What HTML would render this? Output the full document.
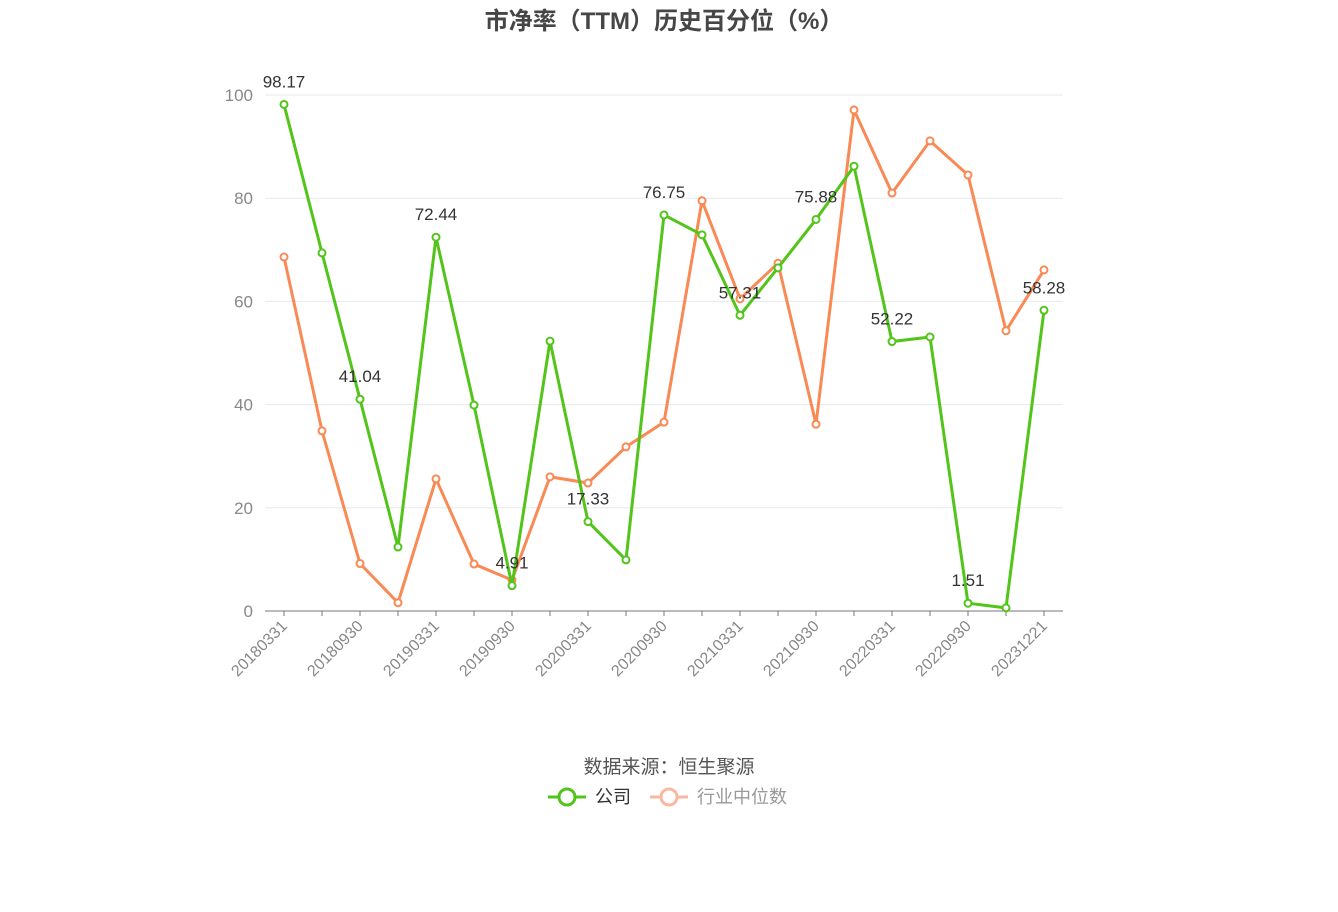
<!DOCTYPE html>
<html><head><meta charset="utf-8"><style>
html,body{margin:0;padding:0;background:#fff;}
svg text{font-family:"Liberation Sans","Noto Sans CJK SC",sans-serif;}
</style></head><body>
<svg id="chart" width="1338" height="907" xmlns="http://www.w3.org/2000/svg">
<text x="664" y="29" text-anchor="middle" font-size="24" font-weight="bold" fill="#464646">市净率（TTM）历史百分位（%）</text>
<g id="grid"></g><g id="xaxis"></g><g id="series"></g>
<text x="669" y="773" text-anchor="middle" font-size="19" fill="#555">数据来源：恒生聚源</text>
<g>
<line x1="548" y1="797" x2="586" y2="797" stroke="#52c41a" stroke-width="3"/>
<circle cx="567" cy="797" r="8" fill="#fff" stroke="#52c41a" stroke-width="3"/>
<text x="595" y="803" font-size="18" fill="#333">公司</text></g>
<g>
<line x1="650" y1="797" x2="688" y2="797" stroke="#fbb8a0" stroke-width="3"/>
<circle cx="669" cy="797" r="8" fill="#fff" stroke="#fbb8a0" stroke-width="3"/>
<text x="697" y="803" font-size="18" fill="#999">行业中位数</text></g>
</svg>
<script>
const dates=["20180331","20180630","20180930","20181231","20190331","20190630","20190930","20191231","20200331","20200630","20200930","20201231","20210331","20210630","20210930","20211231","20220331","20220630","20220930","20221231","20231221"];
const company=[98.17,69.4,41.04,12.4,72.44,39.9,4.91,52.3,17.33,9.9,76.75,72.9,57.31,66.5,75.88,86.2,52.22,53.1,1.51,0.6,58.28];
const industry=[68.6,34.9,9.2,1.6,25.6,9.1,6.0,26.0,24.8,31.8,36.6,79.5,60.5,67.4,36.2,97.1,81.0,91.1,84.5,54.3,66.1];
const yTicks=[0,20,40,60,80,100];
const NS="http://www.w3.org/2000/svg";
const X0=284,DX=38,Y0=611,YS=5.16;
const xs=i=>X0+i*DX, ys=v=>Y0-v*YS;
function mk(tag,attrs,parent,txt){const e=document.createElementNS(NS,tag);for(const k in attrs)e.setAttribute(k,attrs[k]);if(txt!==undefined)e.textContent=txt;parent.appendChild(e);return e;}
const grid=document.getElementById('grid'),xa=document.getElementById('xaxis'),ser=document.getElementById('series');
yTicks.forEach(t=>{
 if(t>0){const l=mk('line',{x1:265,x2:1063,y1:ys(t),y2:ys(t),stroke:'#e6e8f0','stroke-width':1},grid);
 
 }
 const tx=mk('text',{x:253,y:ys(t)+6,'text-anchor':'end','font-size':17,fill:'#888'},grid,t);
 
 
});
const ax=mk('line',{x1:265,x2:1063,y1:Y0,y2:Y0,stroke:'#777','stroke-width':1},xa);


dates.forEach((d,i)=>{
 mk('line',{x1:xs(i),x2:xs(i),y1:Y0,y2:Y0+5,stroke:'#777'},xa);
 if(i%2===0){const t=mk('text',{x:xs(i)+4,y:Y0+16,'text-anchor':'end','font-size':16,fill:'#888',transform:`rotate(-45 ${xs(i)+4} ${Y0+16})`},xa,d);
 
 }
});
function draw(vals,color,name,labels){
 const p=mk('polyline',{points:vals.map((v,i)=>xs(i)+','+ys(v)).join(' '),fill:'none',stroke:color,'stroke-width':3},ser);
 
 
 vals.forEach((v,i)=>{
  const c=mk('circle',{cx:xs(i),cy:ys(v),r:3.5,fill:'#fff',stroke:color,'stroke-width':2},ser);
  
  
  if(labels&&i%2===0){const t=mk('text',{x:xs(i),y:ys(v)-17,'text-anchor':'middle','font-size':17,fill:'#333'},ser,v.toFixed(2));
  
  }
 });
}
draw(industry,'#f98a55','industry-median',false);
draw(company,'#52c41a','company',true);
</script>
</body></html>
